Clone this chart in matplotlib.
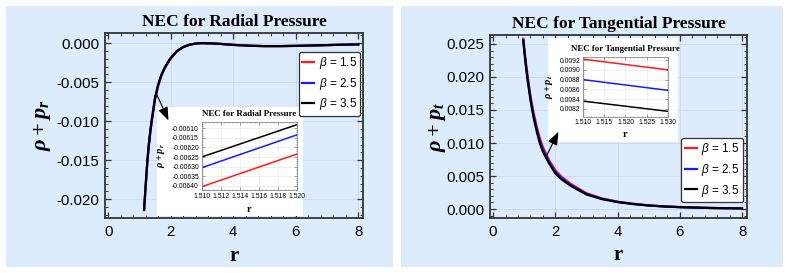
import matplotlib
matplotlib.use("Agg")
import matplotlib.pyplot as plt
from matplotlib.patches import Rectangle
from matplotlib.ticker import AutoMinorLocator

plt.rcParams['font.family'] = ['Liberation Sans', 'DejaVu Sans']
plt.rcParams['mathtext.fontset'] = 'custom'
plt.rcParams['mathtext.it'] = 'Liberation Sans:italic'
plt.rcParams['mathtext.rm'] = 'Liberation Sans'
plt.rcParams['mathtext.bf'] = 'Liberation Serif:bold:italic'

# data
betas = ["1.5", "2.5", "3.5"]
colors = ["#ff1a1a", "#1a1aff", "#000000"]

# radial NEC
r_rad = [1.15, 1.2, 1.25, 1.3, 1.35, 1.4, 1.5, 1.6, 1.7, 1.8, 1.9, 2.0, 2.2, 2.4,
         2.6, 2.8, 3.0, 3.3, 3.6, 4.0, 4.5, 5.0, 5.5, 6.0, 6.5, 7.0, 7.5, 8.0]
rad_b15 = [-0.0214, -0.0184, -0.0155, -0.0132, -0.0114, -0.0099, -0.0072, -0.0055,
           -0.0042, -0.0033, -0.0026, -0.0020, -0.00105, -0.00052, -0.00021, -0.00005,
           0.0, -0.00003, -0.0001, -0.00022, -0.00033, -0.00038, -0.00038, -0.00035,
           -0.0003, -0.00025, -0.0002, -0.00016]
rad_b25 = [-0.02135, -0.0183, -0.0154, -0.0131, -0.0113, -0.0098, -0.0071, -0.0054,
           -0.00415, -0.00325, -0.00255, -0.00195, -0.00102, -0.00051, -0.0002, -0.00005,
           0.0, -0.00003, -0.0001, -0.00022, -0.00033, -0.00038, -0.00038, -0.00035,
           -0.0003, -0.00025, -0.0002, -0.00016]
rad_b35 = [-0.0213, -0.0182, -0.0153, -0.0130, -0.0112, -0.0097, -0.0070, -0.0053,
           -0.0041, -0.0032, -0.0025, -0.0019, -0.0010, -0.0005, -0.0002, -0.00005,
           0.0, -0.00003, -0.0001, -0.00022, -0.00033, -0.00038, -0.00038, -0.00035,
           -0.0003, -0.00025, -0.0002, -0.00016]

# tangential NEC
r_tan = [0.97, 1.0, 1.05, 1.1, 1.2, 1.3, 1.4, 1.5, 1.6, 1.8, 2.0, 2.2, 2.5, 3.0,
         3.5, 4.0, 4.5, 5.0, 5.5, 6.0, 7.0, 8.0]
tan_b15 = [0.0258, 0.0245, 0.0224, 0.0205, 0.0172, 0.0146, 0.0125, 0.0108, 0.0094,
           0.0074, 0.0059, 0.0049, 0.0038, 0.0024, 0.0016, 0.00112, 0.0008, 0.00056,
           0.0004, 0.0003, 0.00016, 0.0001]
tan_b25 = [0.02565, 0.02425, 0.0221, 0.02015, 0.01685, 0.01425, 0.01215, 0.0104,
           0.00905, 0.00715, 0.00565, 0.0047, 0.00365, 0.0023, 0.00155, 0.00108,
           0.00077, 0.00054, 0.00039, 0.00029, 0.000155, 0.000095]
tan_b35 = [0.0255, 0.0240, 0.0218, 0.0198, 0.0165, 0.0139, 0.0118, 0.0100, 0.0087,
           0.0069, 0.0054, 0.0045, 0.0035, 0.0022, 0.0015, 0.00105, 0.00075, 0.00053,
           0.00038, 0.00028, 0.00015, 0.00009]

# zoomed insets
r_rad_zoom = [1.510, 1.520]
rad_zoom = [[-0.006405, -0.006235], [-0.006306, -0.006135], [-0.006250, -0.006082]]
r_tan_zoom = [1.510, 1.530]
tan_zoom = [[0.00922, 0.00900], [0.00880, 0.00858], [0.00836, 0.00815]]

panel_bg = "#dcecfc"
W, H = 790, 273
fig = plt.figure(figsize=(W / 100, H / 100), dpi=100)
fig.patch.set_facecolor("white")


def fx(x):
    return x / W


def fy(y):
    return 1 - y / H


for x0, x1 in [(6, 393), (401, 783)]:
    fig.patches.append(Rectangle((fx(x0), fy(267)), fx(x1 - x0), (267 - 6) / H,
                                 transform=fig.transFigure, facecolor=panel_bg,
                                 edgecolor="none", zorder=-5))


def style_main(ax):
    ax.set_facecolor(panel_bg)
    ax.tick_params(which="both", direction="in", top=True, right=True,
                   color="#333333", labelsize=10.8)
    ax.tick_params(which="major", length=4, width=0.9)
    ax.tick_params(which="minor", length=2, width=0.7)
    ax.tick_params(axis="y", pad=4)
    ax.tick_params(axis="x", pad=5)
    ax.xaxis.set_minor_locator(AutoMinorLocator(5))
    ax.yaxis.set_minor_locator(AutoMinorLocator(5))
    for s in ax.spines.values():
        s.set_color("#333333")
        s.set_linewidth(1.3)
    ax.grid(True, color="#c9d6e3", lw=0.5)


def style_inset(ax):
    ax.set_facecolor("white")
    ax.tick_params(which="both", direction="in", top=True, right=True,
                   color="#777777", labelsize=4.9, pad=2)
    ax.tick_params(which="major", length=2, width=0.5)
    ax.tick_params(which="minor", length=1, width=0.4)
    ax.xaxis.set_minor_locator(AutoMinorLocator(5))
    ax.yaxis.set_minor_locator(AutoMinorLocator(5))
    for s in ax.spines.values():
        s.set_color("#888888")
        s.set_linewidth(0.6)
    ax.grid(True, color="#e4e4e4", lw=0.4)


def add_legend(ax, loc, anchor):
    leg = ax.legend(loc=loc, bbox_to_anchor=anchor, borderaxespad=0,
                    fontsize=8.5, handlelength=1.05, handletextpad=0.35,
                    labelspacing=0.4, fancybox=True, framealpha=1,
                    edgecolor="#333333", borderpad=0.3)
    leg.get_frame().set_linewidth(0.9)
    return leg


title_font = dict(family="Liberation Serif", weight="bold", size=12.5)
arrow = dict(arrowstyle="-|>,head_length=0.8,head_width=0.3", color="black", lw=0.8,
             shrinkA=0, shrinkB=0)

# ---- left: radial pressure
ax1 = fig.add_axes([fx(105), fy(218), fx(258), 185 / H], zorder=1)
style_main(ax1)
for vals, c, b in zip([rad_b15, rad_b25, rad_b35], colors, betas):
    ax1.plot(r_rad, vals, color=c, lw=1.6, label=r"$\beta$ = " + b)
ax1.set_xlim(-0.1, 8.15)
ax1.set_ylim(-0.0224, 0.0013)
ax1.set_xticks([0, 2, 4, 6, 8])
ax1.set_yticks([-0.020, -0.015, -0.010, -0.005, 0.000])
ax1.yaxis.set_major_formatter(plt.FormatStrFormatter("%.3f"))
ax1.set_title("NEC for Radial Pressure", pad=5, **title_font)
ax1.set_ylabel(r"$\mathbf{\rho + p_r}$", fontsize=16)
ax1.yaxis.set_label_coords(-0.2, 0.5)
ax1.set_xlabel("r", family="Liberation Serif", weight="bold", size=15)
ax1.xaxis.set_label_coords(0.5, -0.15)
add_legend(ax1, "upper right", (0.99, 0.90))
ax1.add_patch(Rectangle(((157 - 105) / 258, 0.01), 146 / 258, (218 - 107) / 185 - 0.01,
                        transform=ax1.transAxes, facecolor="white", edgecolor="none",
                        zorder=2.2))
ax1.annotate("", xy=(1.93, -0.0099), xytext=(1.54, -0.00645), arrowprops=arrow, zorder=3)

ins1 = fig.add_axes([fx(201.7), fy(190), fx(95), 68.3 / H], zorder=5)
style_inset(ins1)
for vals, c in zip(rad_zoom, colors):
    ins1.plot(r_rad_zoom, vals, color=c, lw=1.1)
ins1.set_xlim(1.510, 1.520)
ins1.set_ylim(-0.006422, -0.006066)
ins1.set_xticks([1.510, 1.512, 1.514, 1.516, 1.518, 1.520])
ins1.set_yticks([-0.00640, -0.00635, -0.00630, -0.00625, -0.00620, -0.00615, -0.00610])
ins1.yaxis.set_major_formatter(plt.FormatStrFormatter("%.5f"))
ins1.xaxis.set_major_formatter(plt.FormatStrFormatter("%.3f"))
ins1.set_title("NEC for Radial Pressure", pad=4, family="Liberation Serif",
               weight="bold", size=6.4)
ins1.set_ylabel(r"$\mathbf{\rho + p_r}$", fontsize=7.5)
ins1.yaxis.set_label_coords(-0.37, 0.5)
ins1.set_xlabel("r", family="Liberation Serif", weight="bold", size=7.5)
ins1.xaxis.set_label_coords(0.5, -0.22)

# ---- right: tangential pressure
ax2 = fig.add_axes([fx(490), fy(218), fx(257), 183 / H], zorder=1)
style_main(ax2)
for vals, c, b in zip([tan_b15, tan_b25, tan_b35], colors, betas):
    ax2.plot(r_tan, vals, color=c, lw=1.6, label=r"$\beta$ = " + b)
ax2.set_xlim(-0.1, 8.16)
ax2.set_ylim(-0.00136, 0.02636)
ax2.set_xticks([0, 2, 4, 6, 8])
ax2.set_yticks([0.000, 0.005, 0.010, 0.015, 0.020, 0.025])
ax2.yaxis.set_major_formatter(plt.FormatStrFormatter("%.3f"))
ax2.set_title("NEC for Tangential Pressure", pad=5, **title_font)
ax2.set_ylabel(r"$\mathbf{\rho + p_t}$", fontsize=16)
ax2.yaxis.set_label_coords(-0.165, 0.5)
ax2.set_xlabel("r", family="Liberation Serif", weight="bold", size=15)
ax2.xaxis.set_label_coords(0.5, -0.15)
add_legend(ax2, "lower right", (0.985, 0.087))
ax2.add_patch(Rectangle(((548 - 490) / 257, (218 - 142) / 183), 130 / 257, 104 / 183,
                        transform=ax2.transAxes, facecolor="white", edgecolor="none",
                        zorder=2.2, clip_on=False))
ax2.annotate("", xy=(2.10, 0.01171), xytext=(1.73, 0.00818), arrowprops=arrow, zorder=3)

ins2 = fig.add_axes([fx(583), fy(116.7), fx(85), 60 / H], zorder=5)
style_inset(ins2)
for vals, c in zip(tan_zoom, colors):
    ins2.plot(r_tan_zoom, vals, color=c, lw=1.1)
ins2.set_xlim(1.510, 1.530)
ins2.set_ylim(0.00804, 0.00927)
ins2.set_xticks([1.510, 1.515, 1.520, 1.525, 1.530])
ins2.set_yticks([0.0082, 0.0084, 0.0086, 0.0088, 0.0090, 0.0092])
ins2.yaxis.set_major_formatter(plt.FormatStrFormatter("%.4f"))
ins2.xaxis.set_major_formatter(plt.FormatStrFormatter("%.3f"))
ins2.set_title("NEC for Tangential Pressure", pad=4, family="Liberation Serif",
               weight="bold", size=6.4)
ins2.set_ylabel(r"$\mathbf{\rho + p_t}$", fontsize=7.5)
ins2.yaxis.set_label_coords(-0.33, 0.5)
ins2.set_xlabel("r", family="Liberation Serif", weight="bold", size=7.5)
ins2.xaxis.set_label_coords(0.5, -0.22)

fig.savefig("out.png", dpi=100)
